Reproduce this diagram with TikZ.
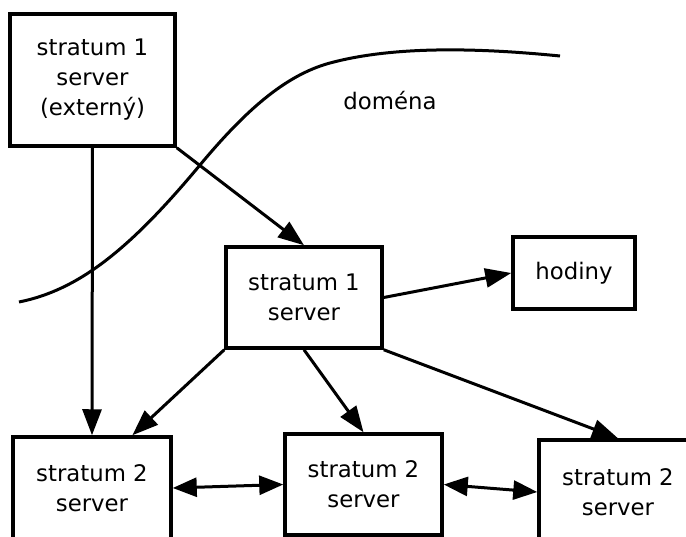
\documentclass[tikz,border=0pt]{standalone}
\usepackage{fontspec}
\setmainfont{DejaVu Sans}
\usetikzlibrary{arrows.meta,calc}
\begin{document}
\begin{tikzpicture}[x=1pt,y=-1pt,
 box/.style={draw,line width=3.5pt,align=center,inner sep=0pt,font=\fontsize{22.8}{30}\selectfont},
 arr/.style={line width=3pt,-{Triangle[length=26pt,width=19pt]}},
 darr/.style={line width=3pt,{Triangle[length=24pt,width=19pt]}-{Triangle[length=24pt,width=19pt]}},
 lbl/.style={font=\fontsize{22.8}{30}\selectfont,inner sep=0pt}]
\clip (0,0) rectangle (686,536);
\fill[white] (0,0) rectangle (686,536);
\node[box,minimum width=165pt,minimum height=132pt] (A) at (92.5,80) {stratum 1\\server\\(externý)};
\node[box,minimum width=156pt,minimum height=101pt] (B) at (304,297.5) {stratum 1\\server};
\node[box,minimum width=122pt,minimum height=72pt] (H) at (574,273) {hodiny};
\node[box,minimum width=158pt,minimum height=102pt] (C) at (92,488) {stratum 2\\server};
\node[box,minimum width=157pt,minimum height=101pt] (D) at (363.5,484.5) {stratum 2\\server};
\node[box,minimum width=158pt,minimum height=104pt] (E) at (618,492) {stratum 2\\server};
\node[lbl,anchor=base] (dom) at (390,109) {doména};
\draw[line width=3pt] (19,302) .. controls (79,290) and (130,249) .. (200,165)
  .. controls (245,111) and (285,75.2) .. (330,63)
  .. controls (390,46.8) and (470,47) .. (560,56);
\draw[arr] (A.south) -- (C.north);
\draw[arr] (A.south east) -- (B.north);
\draw[arr] (B.east) -- (H.west);
\draw[arr] (B.south west) -- ($(C.north)!0.5!(C.north east)$);
\draw[arr] (B.south) -- (D.north);
\draw[arr] (B.south east) -- (E.north);
\draw[darr] (C.east) -- (D.west);
\draw[darr] (D.east) -- (E.west);
\end{tikzpicture}
\end{document}
